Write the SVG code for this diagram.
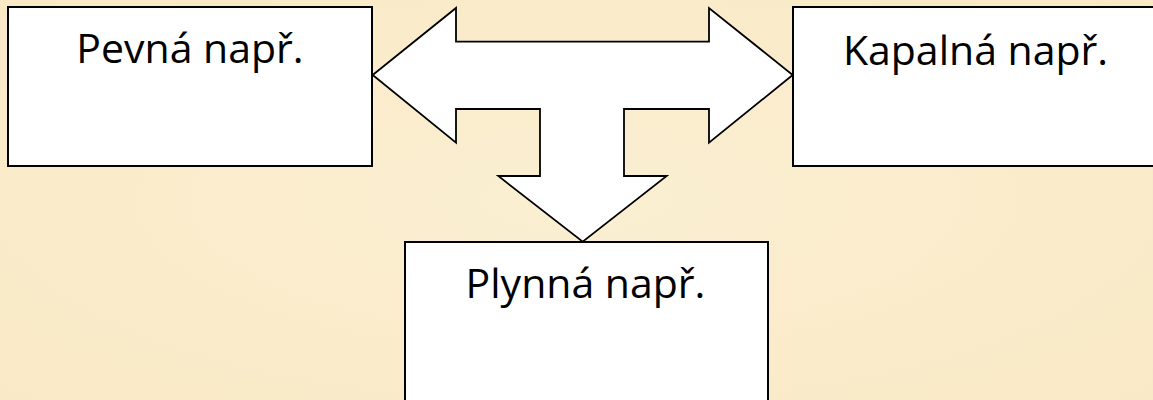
<svg xmlns="http://www.w3.org/2000/svg" width="1153" height="400" viewBox="0 0 1153 400">
  <style>
    .box { fill: #ffffff; stroke: #000000; stroke-width: 2; }
    .lbl { font-family: "Open Sans", "Noto Sans", "Liberation Sans", sans-serif; font-size: 41px; fill: #000000; text-anchor: middle; }
    .arrow { fill: #ffffff; stroke: #000000; stroke-width: 1.8; stroke-linejoin: miter; }
  </style>
  <defs>
    <radialGradient id="bg" cx="0.5" cy="0.5" r="0.8">
      <stop offset="0" stop-color="#FBEFD2"/>
      <stop offset="1" stop-color="#F9E8C4"/>
    </radialGradient>
  </defs>
  <rect x="0" y="0" width="1153" height="400" fill="url(#bg)"/>

  <g id="node-pevna">
    <rect class="box" x="8" y="7" width="364" height="159"/>
    <text class="lbl" x="190" y="63">Pevná např.</text>
  </g>
  <g id="node-kapalna">
    <rect class="box" x="793" y="7" width="366" height="159"/>
    <text class="lbl" x="975.5" y="65">Kapalná např.</text>
  </g>
  <g id="node-plynna">
    <rect class="box" x="405" y="242" width="363" height="170"/>
    <text class="lbl" x="585.5" y="298">Plynná např.</text>
  </g>

  <g id="connectors">
    <polygon class="arrow" points="372.7,75 456,8 456,41.7 709,41.7 709,8 792.7,75 709,142.7 709,109 624,109 624,176 666.7,176 582.7,241.7 498.3,176 540,176 540,109 456,109 456,142.7"/>
  </g>
</svg>
